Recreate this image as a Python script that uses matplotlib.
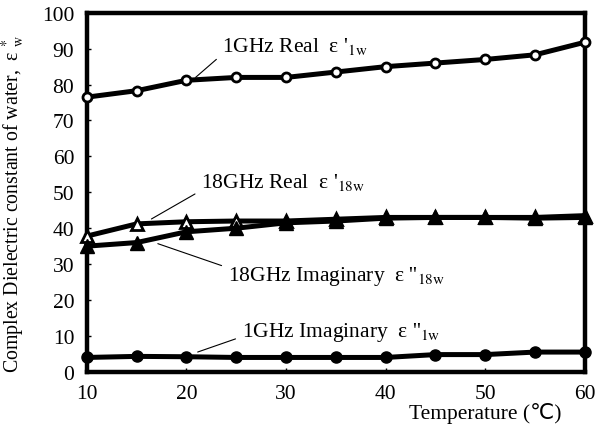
import matplotlib
matplotlib.use("Agg")
import matplotlib.pyplot as plt

plt.rcParams['font.family'] = ['Liberation Serif', 'DejaVu Serif']
plt.rcParams['mathtext.fontset'] = 'stix'

# temperatures (deg C)
temp = [10, 15, 20, 25, 30, 35, 40, 45, 50, 55, 60]
# dielectric constant of water
real_1g = [76.5, 78.3, 81.2, 82.0, 82.0, 83.5, 85.0, 86.0, 87.0, 88.3, 91.8]
real_18g = [37.8, 41.2, 41.8, 42.0, 42.0, 42.5, 43.0, 43.0, 43.0, 43.0, 43.5]
imag_18g = [35.0, 36.0, 39.0, 40.0, 41.5, 42.0, 42.8, 43.0, 43.0, 42.8, 43.0]
imag_1g = [4.0, 4.3, 4.2, 4.0, 4.0, 4.0, 4.0, 4.8, 4.8, 5.5, 5.5]

fig = plt.figure(figsize=(6.03, 4.31), dpi=100)
ax = fig.add_axes([0.144, 0.135, 0.826, 0.833])

lw = 3.6
ax.plot(temp, real_1g, color='black', lw=lw, marker='o', ms=6.5,
        mfc='white', mec='black', mew=2, clip_on=False, zorder=3)
ax.plot(temp, real_18g, color='black', lw=lw, marker='^', ms=9,
        mfc='white', mec='black', mew=2, clip_on=False, zorder=3)
ax.plot(temp, imag_18g, color='black', lw=lw, marker='^', ms=10,
        mfc='black', mec='black', clip_on=False, zorder=4)
ax.plot(temp, imag_1g, color='black', lw=lw, marker='o', ms=8,
        mfc='black', mec='black', clip_on=False, zorder=3)

ax.set_xlim(10, 60)
ax.set_ylim(0, 100)
ax.set_xticks(range(10, 61, 10))
ax.set_yticks(range(0, 101, 10))
ax.tick_params(direction='in', length=3, width=1, labelsize=15.5, pad=9)
for s in ax.spines.values():
    s.set_linewidth(3.2)

ax.set_ylabel(r"Complex Dielectric constant of water,  ε $^{*}_{\mathrm{w}}$",
              fontsize=14.3)
ax.yaxis.set_label_coords(-0.12, 0.47)
ax.set_xlabel("Temperature (℃)", fontsize=15.5,
              family=['Liberation Serif', 'DejaVu Sans'])
ax.xaxis.set_label_coords(0.8, -0.085)

# annotations with leader lines
def lead(rel):
    return dict(arrowstyle='-', color='black', lw=0.8, relpos=rel,
                shrinkA=3, shrinkB=4)

ax.annotate(r"1GHz Real  ε '$_{\mathrm{1w}}$", xy=(20.5, 81.0), xytext=(23.6, 90.8),
            fontsize=15.5, arrowprops=lead((0, 0.1)), va='center')
ax.annotate(r"18GHz Real  ε '$_{\mathrm{18w}}$", xy=(16.0, 41.8), xytext=(21.5, 52.9),
            fontsize=15.5, arrowprops=lead((0, 0.1)), va='center')
ax.annotate(r"18GHz Imaginary  ε ''$_{\mathrm{18w}}$", xy=(16.6, 36.2), xytext=(24.2, 26.7),
            fontsize=15.5, arrowprops=lead((0, 0.85)), va='center')
ax.annotate(r"1GHz Imaginary  ε ''$_{\mathrm{1w}}$", xy=(20.6, 5.0), xytext=(25.6, 11.1),
            fontsize=15.5, arrowprops=lead((0, 0.3)), va='center')

fig.savefig("out.png", dpi=100)
